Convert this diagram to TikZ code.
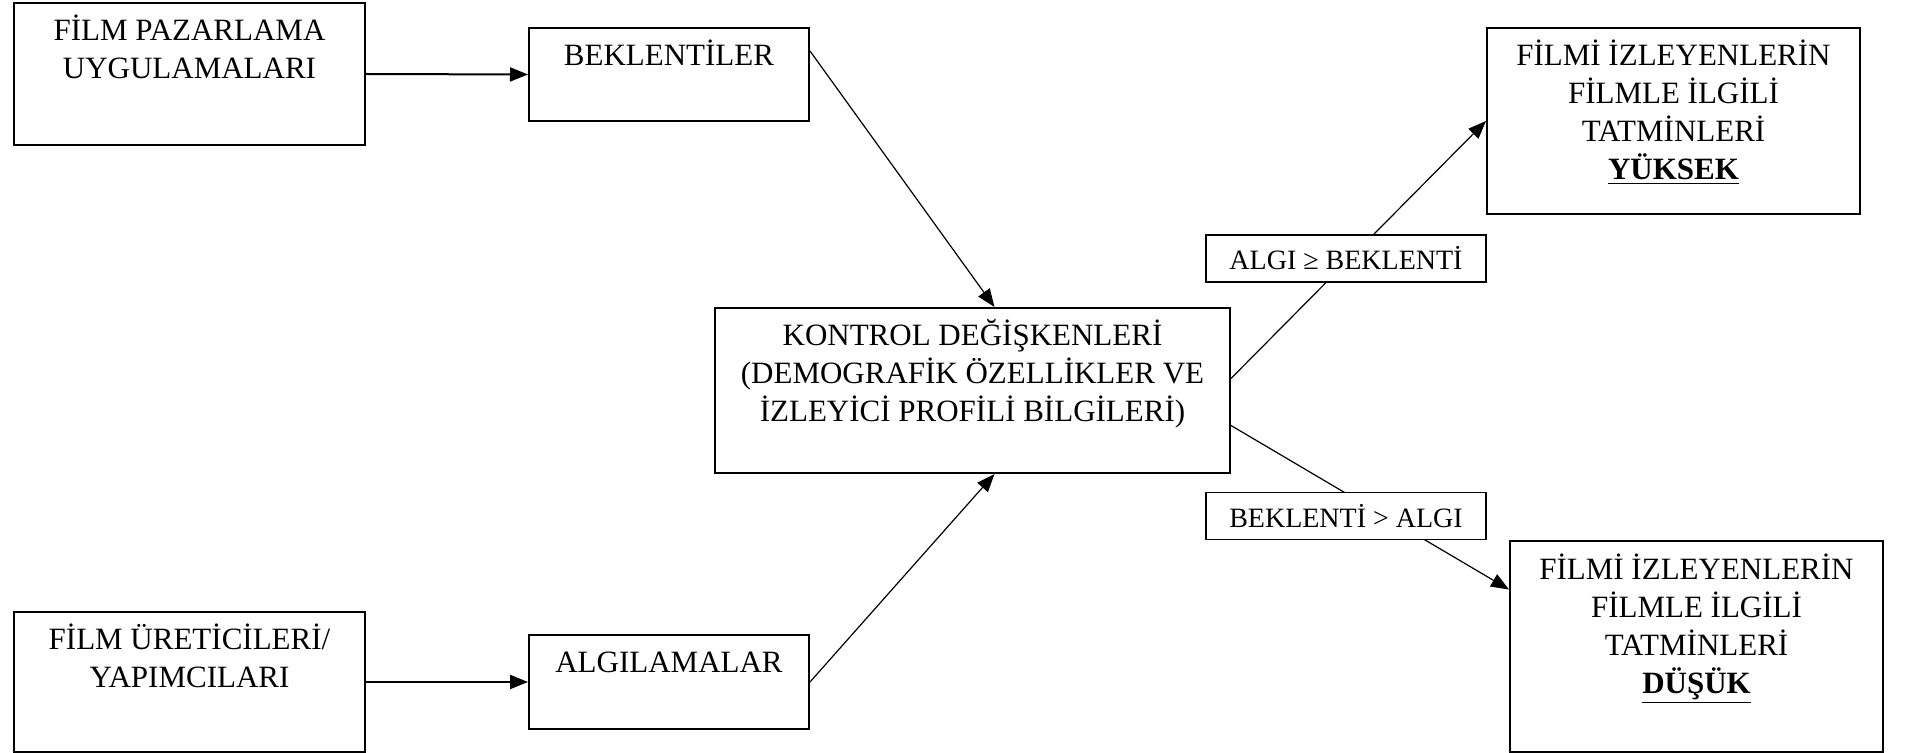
\documentclass[tikz,border=0pt]{standalone}
\usepackage{fontspec}
\setmainfont{Liberation Serif}
\usetikzlibrary{arrows.meta}
\newcommand{\boxlines}[3]{\parbox[c][#2][t]{#1}{\centering\rule{0pt}{19pt}#3}}

\begin{document}
\begin{tikzpicture}[x=0.5pt, y=-0.5pt,
  boxy/.style={draw, rectangle, line width=1pt, inner sep=0pt, anchor=north west, font=\fontsize{15.5}{19}\selectfont},
  cond/.style={draw, rectangle, line width=0.8pt, fill=white, inner sep=0pt, minimum width=140pt, minimum height=23.5pt, font=\fontsize{14}{17}\selectfont},
  link/.style={-{Triangle[length=9pt,width=7pt]}, line width=0.6pt}]
\useasboundingbox (0,0) rectangle (1908,753);
\node[boxy] (pazar) at (13,2) {\boxlines{175.5pt}{71pt}{FİLM PAZARLAMA\\UYGULAMALARI}};
\node[boxy] (uretici) at (13,611) {\boxlines{175.5pt}{70pt}{FİLM ÜRETİCİLERİ/\\YAPIMCILARI}};
\node[boxy] (bekl) at (528,27) {\boxlines{140pt}{46.5pt}{BEKLENTİLER}};
\node[boxy] (algi) at (528,634) {\boxlines{140pt}{47pt}{ALGILAMALAR}};
\node[boxy] (kontrol) at (714,307) {\boxlines{257.5pt}{82.5pt}{KONTROL DEĞİŞKENLERİ\\(DEMOGRAFİK ÖZELLİKLER VE\\İZLEYİCİ PROFİLİ BİLGİLERİ)}};
\node[boxy] (yuksek) at (1486,27) {\boxlines{186.5pt}{93pt}{FİLMİ İZLEYENLERİN\\FİLMLE İLGİLİ\\TATMİNLERİ\\\textbf{\underline{YÜKSEK}}}};
\node[boxy] (dusuk) at (1509,540) {\boxlines{186.5pt}{105.5pt}{FİLMİ İZLEYENLERİN\\FİLMLE İLGİLİ\\TATMİNLERİ\\\textbf{\underline{DÜŞÜK}}}};

\draw[link, line width=1pt] (pazar.east) -- (bekl.west);
\draw[link, line width=1pt] (uretici.east) -- (algi.west);
\draw[link] ([yshift=-12pt]bekl.north east) -- ([xshift=11pt]kontrol.north);
\draw[link] (algi.east) -- ([xshift=11pt]kontrol.south);
\draw[link] ([yshift=6pt]kontrol.east) -- (yuksek.west);
\draw[link] ([yshift=-17.5pt]kontrol.east) -- ([yshift=28.5pt]dusuk.west);

% conditions sit on top of the two lines
\node[cond] (buyuk) at (1346,258.5) {ALGI ≥ BEKLENTİ};
\node[cond] (kucuk) at (1346,516) {BEKLENTİ > ALGI};
\end{tikzpicture}
\end{document}
